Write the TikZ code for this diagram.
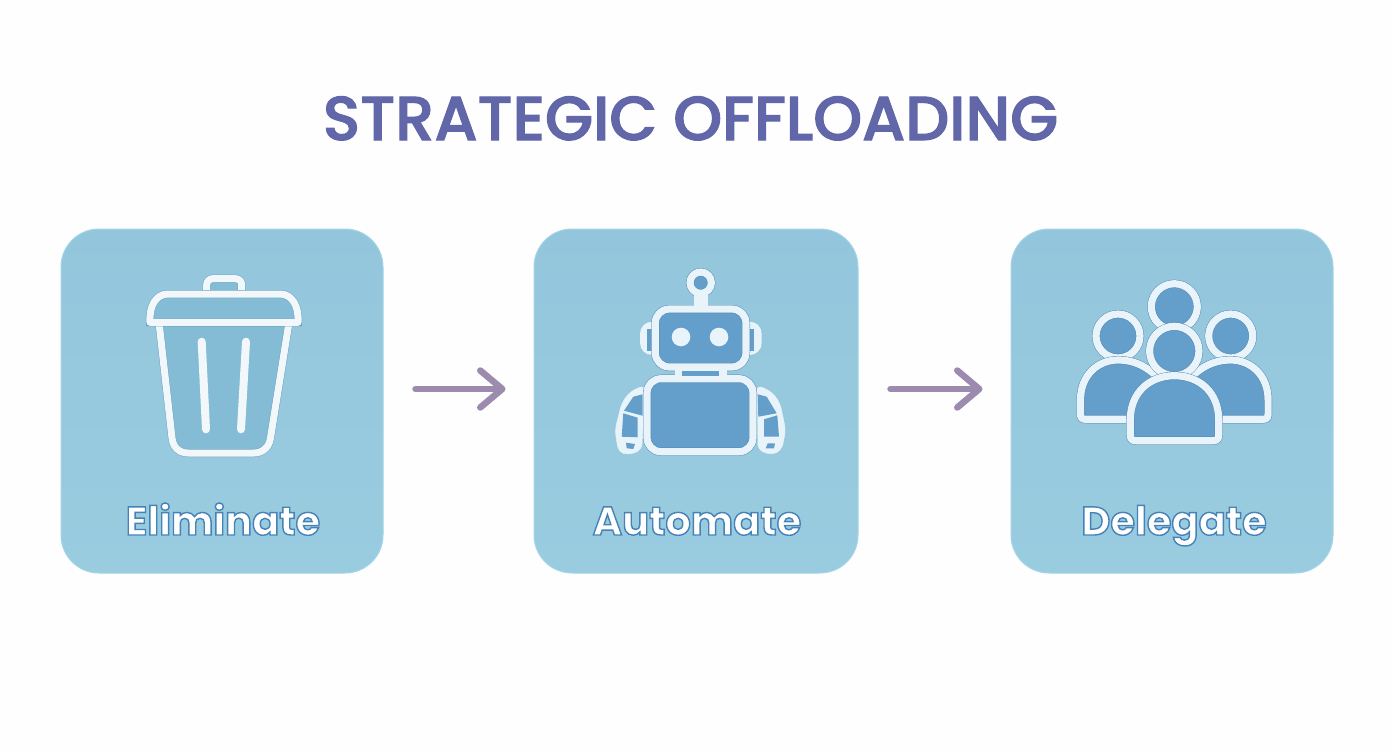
\documentclass[tikz,border=0pt]{standalone}
\usepackage{fontspec}
\setmainfont{Poppins}
\newfontfamily\titlefont{Poppins Medium}
\newfontfamily\labelfont{Poppins}[BoldFont={Poppins Bold}]
\usetikzlibrary{arrows.meta}
\definecolor{bgc}{HTML}{FEFEFE}
\definecolor{cardA}{HTML}{93C6DC}
\definecolor{cardB}{HTML}{9ACCE0}
\definecolor{cardedge}{HTML}{A2D6E6}
\definecolor{titlec}{HTML}{6167A8}
\definecolor{arrowc}{HTML}{9C8BAE}
\definecolor{iconline}{HTML}{E8F4F9}
\definecolor{trashline}{HTML}{F2F7FA}
\definecolor{iconfill}{HTML}{649ECB}
\definecolor{trashfill}{HTML}{84BBD5}
\definecolor{iconedge}{HTML}{4F82AE}
\definecolor{trashedge}{HTML}{6FA6C6}
\newcommand\outlined[1]{\special{pdf:code q 2 Tr 1.4 w 0.27 0.51 0.72 RG}#1\special{pdf:code Q}}
\newcommand\heavier[1]{\special{pdf:code q 2 Tr 1.1 w 0.38 0.40 0.66 RG}#1\special{pdf:code Q}}
\tikzset{
 card/.style={rectangle,rounded corners=38pt,inner sep=0pt,top color=cardA,bottom color=cardB,draw=cardedge,line width=1pt,minimum height=344pt},
 flowarrow/.style={draw=arrowc,line width=6.5pt,line cap=round,-{Straight Barb[length=22pt,width=37pt,round]}},
 cardlabel/.style={anchor=base,inner sep=0pt,text=white,font=\labelfont\bfseries\fontsize{40}{40}\selectfont},
 trash/.style={preaction={fill=trashfill},preaction={draw=trashedge,line width=8pt},draw=trashline,line width=7pt,line join=round,line cap=round},
 icon/.style={preaction={fill=iconfill},preaction={draw=iconedge,line width=8pt},draw=iconline,line width=7.2pt,line join=round},
 iconsolid/.style={fill=iconline,draw=iconline,line join=round},
}
\begin{document}
\begin{tikzpicture}[x=1pt,y=-1pt]
\useasboundingbox (0,0) rectangle (1392,752);
\fill[bgc] (0,0) rectangle (1392,752);
\node[anchor=base,inner sep=0pt,text=titlec,font=\titlefont\fontsize{62}{62}\selectfont] (title) at (690.5,140) {\heavier{STRATEGIC OFFLOADING}};
\node[card,minimum width=322pt] (card1) at (222,401) {};
\node[card,minimum width=324pt] (card2) at (696,401) {};
\node[card,minimum width=322pt] (card3) at (1172,401) {};
\coordinate (level) at (0,389);
\draw[flowarrow,shorten <=32pt,shorten >=28pt] (card1.east |- level) -- (card2.west |- level);
\draw[flowarrow,shorten <=32pt,shorten >=28pt] (card2.east |- level) -- (card3.west |- level);
\node[cardlabel] (l1) at (223,535) {\outlined{Eliminate}};
\node[cardlabel] (l2) at (697,535) {\outlined{Automate}};
\node[cardlabel] (l3) at (1174,535) {\outlined{Delegate}};
% trash
\draw[trash,rounded corners=6pt] (206.7,294) -- (206.7,278.7) -- (241.7,278.7) -- (241.7,294);
\draw[trash] (159,322.3) -- (172,438) .. controls (173,448) and (180,453) .. (188,453) -- (254,453) .. controls (262,453) and (269,448) .. (270.5,438) -- (289,322.3) -- cycle;
\draw[trash] (156,322.3) -- (150,322.3) .. controls (149,306) and (156,294) .. (168,294) -- (280,294) .. controls (292,294) and (299,306) .. (298,322.3) -- cycle;
\draw[trashline,line width=8pt,line cap=round] (201.7,341.7) -- (206,429.3);
\draw[trashline,line width=8pt,line cap=round] (246,341.7) -- (241,429.3);
% robot
\draw[icon] (700.7,282.7) circle (10.7pt);
\fill[iconline,rounded corners=12pt] (640,321.7) rectangle (761.7,355);
\fill[iconfill] (647.3,329.3) rectangle (651.7,350.7);
\fill[iconfill] (750,329.3) rectangle (754.3,350.7);
\draw[icon,rounded corners=14pt] (655.3,309) rectangle (746,367);
\fill[iconline] (693.7,293) rectangle (707.7,310);
\fill[iconline] (681,337) circle (9.3pt);
\fill[iconline] (719,337) circle (9.3pt);
\draw[iconsolid,rounded corners=6pt] (645,385) -- (630,391.7) -- (621.7,403) -- (615,430) -- (618.3,451.7) -- (628.3,455) -- (641.7,450) -- cycle;
\draw[iconsolid,rounded corners=6pt] (756.7,385) -- (771.7,391.7) -- (780,403) -- (785.7,430) -- (781.7,450) -- (771.7,455) -- (758,450) -- cycle;
\draw[icon,rounded corners=14pt] (647,378.7) rectangle (753,451.7);
\fill[iconline] (675,366) rectangle (726.7,379);
\fill[iconfill] (682.3,371) rectangle (719,376);
\fill[iconfill] (642.7,394.3) -- (633.3,396.7) -- (624,410.7) -- (642.7,415.7) -- cycle;
\fill[iconfill] (623.3,413.3) -- (637.7,417.7) -- (637.7,437.3) -- (621.7,436.7) -- cycle;
\fill[iconfill] (626,442.7) -- (635,444) -- (633.3,449) -- (626.7,448.3) -- cycle;
\fill[iconfill] (757.7,394.3) -- (766.7,396.7) -- (776.7,413.3) -- (758.3,416.7) -- cycle;
\fill[iconfill] (764,419.3) -- (777.3,415.3) -- (779,436.7) -- (764,436.7) -- cycle;
\fill[iconfill] (767.7,443.3) -- (775,443.3) -- (774,448.3) -- (765.7,448.3) -- cycle;
% people
\draw[icon] (1174.3,306.7) circle (23pt);
\draw[icon] (1118,336) circle (22pt);
\draw[icon] (1230.7,336) circle (22pt);
\draw[icon] (1165,419.3) -- (1086,419.3) .. controls (1082,419.3) and (1080.5,418) .. (1080.5,414) -- (1080.5,400) .. controls (1080.5,375) and (1098,360) .. (1118,360) .. controls (1138,360) and (1152,370) .. (1165,385) -- cycle;
\draw[icon] (1183.6,419.3) -- (1262.6,419.3) .. controls (1266.6,419.3) and (1268.1,418) .. (1268.1,414) -- (1268.1,400) .. controls (1268.1,375) and (1250.6,360) .. (1230.6,360) .. controls (1210.6,360) and (1196.6,370) .. (1183.6,385) -- cycle;
\draw[icon] (1174.3,351) circle (24.7pt);
\draw[icon] (1136,440.7) .. controls (1132,440.7) and (1130.3,439) .. (1130.3,435) -- (1130.3,420) .. controls (1130.3,392) and (1150,375.7) .. (1174.5,375.7) .. controls (1199,375.7) and (1218.7,392) .. (1218.7,420) -- (1218.7,435) .. controls (1218.7,439) and (1217,440.7) .. (1213,440.7) -- cycle;
\end{tikzpicture}
\end{document}
